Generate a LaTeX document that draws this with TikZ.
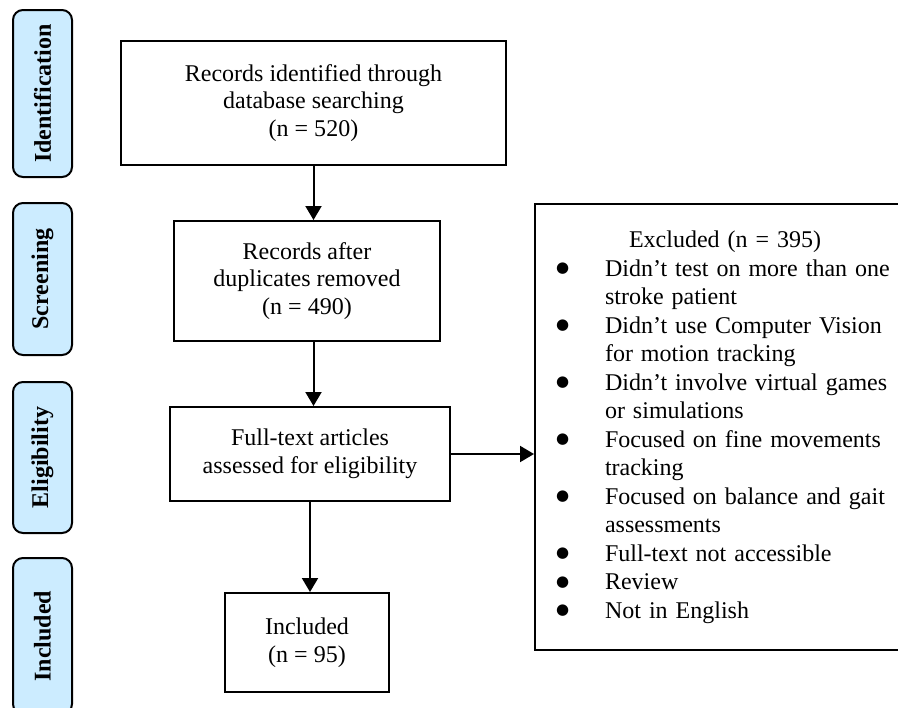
\documentclass[tikz,border=0pt]{standalone}
\usepackage{fontspec}
\setmainfont{Liberation Serif}
\newfontfamily\dotfont{DejaVu Sans}
\usetikzlibrary{positioning, calc, arrows.meta}

\definecolor{phaseblue}{RGB}{204,236,255}

%% marcador de item (caixa de exclusao)
\newcommand{\exitem}{\makebox[35pt][l]{\hspace{10.5pt}\raisebox{1.8pt}{\dotfont\fontsize{7.5}{7.5}\selectfont ●}}}
\newcommand{\exwrap}{\hspace*{35pt}}

\begin{document}
\begin{tikzpicture}[
  x=0.5pt, y=-0.5pt,
  %% caixas do fluxo principal
  mbox/.style={
    rectangle, draw=black, line width=1pt,
    align=center, fill=white, inner sep=0pt,
    font=\fontsize{12}{13.75}\selectfont
  },
  %% caixa de exclusao (margem direita)
  ebox/.style={
    rectangle, draw=black, line width=1pt,
    text width=193pt, align=left,
    inner xsep=0pt, inner ysep=13.5pt,
    font=\fontsize{12}{14.25}\selectfont
  },
  %% setas
  arr/.style={-{Triangle[length=7pt,width=8pt]}, line width=1pt},
  %% labels de fase
  phase/.style={
    rectangle, draw=black, line width=1pt, rounded corners=5pt,
    fill=phaseblue, rotate=90, minimum height=29.5pt,
    font=\bfseries\fontsize{12}{14}\selectfont
  }
]

\useasboundingbox (0,0) rectangle (898,707);
\clip (0,0) rectangle (898,707);

%% ================================================================
%% LABELS DE FASE (margem esquerda)
%% ================================================================
\node[phase, minimum width=83.5pt] (pident) at (42.5,93.5) {Identification};
\node[phase, minimum width=76pt]   (pscreen) at (42.5,279) {Screening};
\node[phase, minimum width=75.5pt] (pelig) at (42.5,457.5) {Eligibility};
\node[phase, minimum width=78pt]   (pincl) at (42.5,636) {Included};

%% ================================================================
%% FLUXO PRINCIPAL
%% ================================================================
\node[mbox, minimum width=192.5pt, minimum height=62pt] (ident) at (313.5,103) {
  Records identified through\\
  database searching\\
  (n = 520)
};

\node[mbox, minimum width=133pt, minimum height=60pt] (dedup) at (307,281) {
  Records after\\
  duplicates removed\\
  (n = 490)
};

\node[mbox, minimum width=140pt, minimum height=47pt] (fulltext) at (310,454) {
  Full-text articles\\
  assessed for eligibility
};

\node[mbox, minimum width=82pt, minimum height=49.5pt] (included) at (307,642.5) {
  Included\\
  (n = 95)
};

%% ================================================================
%% EXCLUIDOS
%% ================================================================
\node[ebox, anchor=north west] (excl) at (534,203) {
  \hspace*{47pt}Excluded (n = 395)\\
  \exitem Didn't test on more than one\\
  \exwrap stroke patient\\
  \exitem Didn't use Computer Vision\\
  \exwrap for motion tracking\\
  \exitem Didn't involve virtual games\\
  \exwrap or simulations\\
  \exitem Focused on fine movements\\
  \exwrap tracking\\
  \exitem Focused on balance and gait\\
  \exwrap assessments\\
  \exitem Full-text not accessible\\
  \exitem Review\\
  \exitem Not in English
};

%% setas
\draw[arr] (ident.south) -- (ident.south |- dedup.north);
\draw[arr] (ident.south |- dedup.south) -- (ident.south |- fulltext.north);
\draw[arr] (fulltext.south) -- (fulltext.south |- included.north);
\draw[arr] (fulltext.east) -- (fulltext.east -| excl.west);

\end{tikzpicture}
\end{document}
